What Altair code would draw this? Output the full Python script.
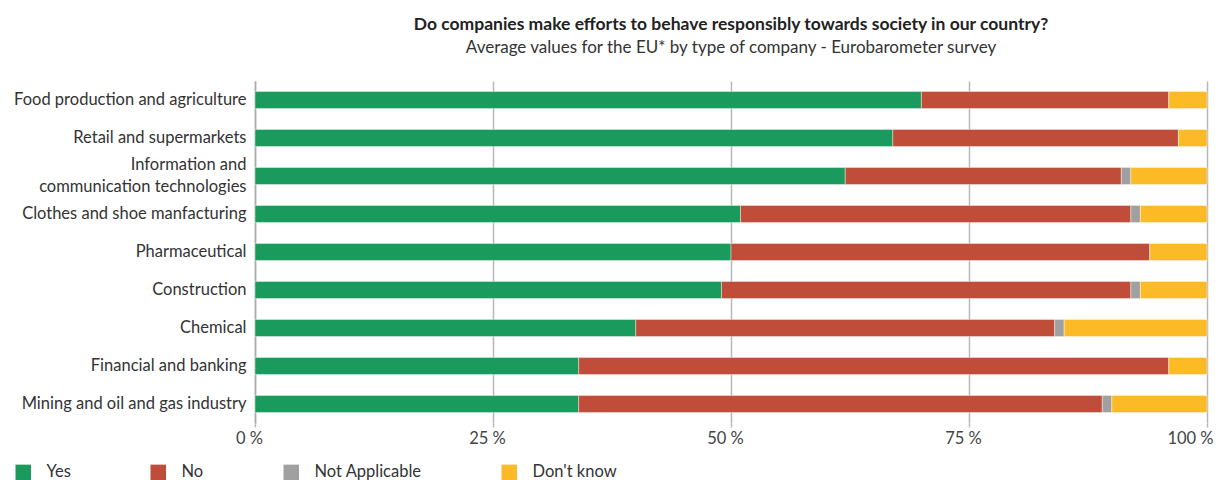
import altair as alt
import pandas as pd

categories = [
    "Food production and agriculture",
    "Retail and supermarkets",
    "Information and communication technologies",
    "Clothes and shoe manfacturing",
    "Pharmaceutical",
    "Construction",
    "Chemical",
    "Financial and banking",
    "Mining and oil and gas industry",
]
answers = ["Yes", "No", "Not Applicable", "Don't know"]
yes_vals = [70, 67, 62, 51, 50, 49, 40, 34, 34]
no_vals = [26, 30, 29, 41, 44, 43, 44, 62, 55]
na_vals = [0, 0, 1, 1, 0, 1, 1, 0, 1]
dk_vals = [4, 3, 8, 7, 6, 7, 15, 4, 10]
colors = ["#1a9a5c", "#c04c3a", "#a0a0a0", "#fbba26"]
x_ticks = [0, 25, 50, 75, 100]

rows = []
for i, c in enumerate(categories):
    for j, (a, vals) in enumerate(zip(answers, [yes_vals, no_vals, na_vals, dk_vals])):
        rows.append({"category": c, "answer": a, "value": vals[i], "order": j})
df = pd.DataFrame(rows)

FONT = "Lato"
ICT = "Information and communication technologies"

label_expr = (
    f"datum.value == '{ICT}' ? "
    "['Information and', 'communication technologies'] : datum.value"
)

chart = (
    alt.Chart(df)
    .mark_bar(stroke="#ffffff", strokeWidth=0.8, strokeOpacity=0.5)
    .encode(
        y=alt.Y(
            "category:N",
            sort=categories,
            scale=alt.Scale(paddingInner=0.55, paddingOuter=0.275),
            axis=alt.Axis(
                title=None,
                labelExpr=label_expr,
                labelFont=FONT,
                labelFontSize=16.5,
                labelColor="#333333",
                labelPadding=9,
                labelLineHeight=22,
                labelOffset=alt.condition(f"datum.value == '{ICT}'", alt.value(-11), alt.value(0)),
                ticks=False,
                domain=True,
                domainColor="#aaaaaa",
                domainWidth=1.5,
                grid=False,
                labelLimit=400,
            ),
        ),
        x=alt.X(
            "value:Q",
            stack="zero",
            scale=alt.Scale(domain=[0, 100], nice=False),
            axis=alt.Axis(
                title=None,
                values=x_ticks,
                labelExpr="datum.value + ' %'",
                labelFont=FONT,
                labelFontSize=16.5,
                labelColor="#444444",
                labelPadding=3,
                labelFlush=False,
                labelOffset=alt.condition("datum.value == 100", alt.value(-17), alt.value(-6)),
                grid=True,
                gridColor="#b8b8b8",
                gridWidth=1.5,
                domain=False,
                ticks=True,
                tickColor="#b8b8b8",
                tickSize=4,
                tickWidth=1.5,
            ),
        ),
        color=alt.Color(
            "answer:N",
            sort=answers,
            scale=alt.Scale(domain=answers, range=colors),
            legend=alt.Legend(
                title=None,
                orient="none",
                direction="horizontal",
                legendX=-240,
                legendY=383,
                symbolType="square",
                symbolSize=240,
                symbolStrokeWidth=0,
                symbolOpacity=1,
                labelFont=FONT,
                labelFontSize=16.5,
                labelColor="#333333",
                labelOffset=15,
                columnPadding=79,
            ),
        ),
        order=alt.Order("order:Q"),
    )
    .properties(
        width=952,
        height=342,
        autosize=alt.AutoSizeParams(type="none"),
        padding={"left": 247, "top": 73, "right": 9, "bottom": 57},
        title=alt.TitleParams(
            text="Do companies make efforts to behave responsibly towards society in our country?",
            subtitle="Average values for the EU* by type of company - Eurobarometer survey",
            font=FONT,
            fontSize=17.5,
            fontWeight="bold",
            color="#222222",
            subtitleFont=FONT,
            subtitleFontSize=17,
            subtitleColor="#333333",
            subtitlePadding=7,
            anchor="middle",
            frame="group",
            offset=25,
        ),
    )
    .configure_view(stroke=None)
)

chart.save("out.html", embed_options={"renderer": "svg", "actions": False})
